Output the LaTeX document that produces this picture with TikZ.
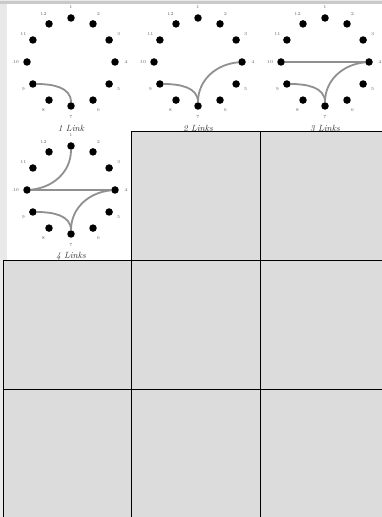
\documentclass[tikz,border=0pt]{standalone}
\usetikzlibrary{calc}
\definecolor{pagebg}{HTML}{E9E9E9}
\definecolor{topband}{HTML}{C9C9C9}
\definecolor{cellgrey}{HTML}{DCDCDC}
\definecolor{linkgrey}{HTML}{909090}
\tikzset{
  dotnode/.style={circle,fill=black,inner sep=0pt,minimum size=7.5pt},
  numlabel/.style={inner sep=0pt,text=black!60,font=\fontsize{4.5}{5}\selectfont},
  capnode/.style={inner sep=0pt,text=black!80,font=\fontsize{9}{10}\selectfont\itshape},
  linkline/.style={draw=linkgrey,line width=1.8pt},
  gridline/.style={draw=black,line width=1pt}
}
\newcommand\clockface[4]{%
  \begin{scope}[shift={(#2,#3)}]
    \foreach \k in {1,...,12}{%
      \pgfmathsetmacro\ang{90-30*(\k-1)}
      \node[dotnode] (#1-\k) at (\ang:44) {};
      \node[numlabel] (#1-l\k) at (\ang:55) {\k};
    }
    \node[capnode] (#1-cap) at (0,-66) {#4};
  \end{scope}
}
\begin{document}
\begin{tikzpicture}[x=1pt,y=1pt]
  \useasboundingbox (0,0) rectangle (382,517);
  % backgrounds
  \fill[pagebg] (0,0) rectangle (382,517);
  \fill[topband] (0,512.5) rectangle (382,515.5);
  \fill[white] (7,385.5) rectangle (382,512.5);
  \fill[white] (7,256) rectangle (131,385.5);
  \fill[cellgrey] (131,0) rectangle (382,385);
  \fill[cellgrey] (3,0) rectangle (131,256);
  % grid lines
  \draw[gridline] (131.5,385) -- (131.5,0);
  \draw[gridline] (260.5,385) -- (260.5,0);
  \draw[gridline] (131,385) -- (382,385);
  \draw[gridline] (3,256) -- (382,256);
  \draw[gridline] (3,127) -- (382,127);
  \draw[gridline] (3,256) -- (3,0);
  % clock faces
  \clockface{a}{71}{455}{1 Link}
  \clockface{b}{198}{455}{2 Links}
  \clockface{c}{325}{455}{3 Links}
  \clockface{d}{71}{327}{4 Links}
  % links
  \draw[linkline] (a-9) to[out=0,in=90] (a-7);
  \draw[linkline] (b-9) to[out=0,in=90] (b-7);
  \draw[linkline] (b-7) to[out=90,in=185] (b-4);
  \draw[linkline] (c-9) to[out=0,in=90] (c-7);
  \draw[linkline] (c-7) to[out=90,in=185] (c-4);
  \draw[linkline] (c-10) -- (c-4);
  \draw[linkline] (d-9) to[out=0,in=90] (d-7);
  \draw[linkline] (d-7) to[out=90,in=185] (d-4);
  \draw[linkline] (d-10) -- (d-4);
  \draw[linkline] (d-10) to[out=5,in=270] (d-1);
\end{tikzpicture}
\end{document}
